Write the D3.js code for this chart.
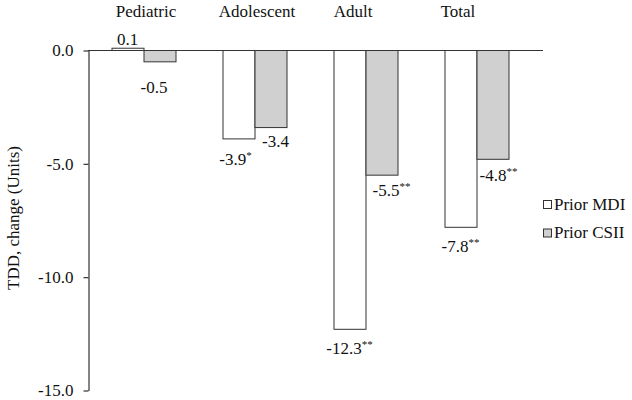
<!DOCTYPE html>
<html>
<head>
<meta charset="utf-8">
<script src="https://cdn.jsdelivr.net/npm/d3@7"></script>
<style>
  html, body { margin: 0; padding: 0; background: #fff; }
  svg { display: block; }
  svg text { font-family: "Liberation Serif", "Times New Roman", serif; }
</style>
</head>
<body>
<svg id="chart" width="632" height="400"></svg>
<script>
// ---- data ----
const categories = ["Pediatric", "Adolescent", "Adult", "Total"];
const seriesNames = ["Prior MDI", "Prior CSII"];
const mdiValues = [0.1, -3.9, -12.3, -7.8];
const csiiValues = [-0.5, -3.4, -5.5, -4.8];
const mdiSig = ["", "*", "**", "**"];
const csiiSig = ["", "", "**", "**"];
const yTicks = [0, -5, -10, -15];
const yLabel = "TDD, change (Units)";

// ---- layout / style ----
const FONT = "'Liberation Serif', 'Times New Roman', serif";
const fills = ["#ffffff", "#d0d0d0"];
const stroke = "#333";
const fontSize = 17;
const catLabelDx = [2.5, 2.5, -12.5, -18.5];
// value label offsets [dx from bar centre, dy from bar end]
const valLabelOff = [
  [[0, -3], [-3, 27], [0, 25], [0, 25]],
  [[-5.5, 32], [5, 20], [10, 21], [6, 22]]
];

const fmt = d3.formatLocale({decimal: ".", thousands: ",", grouping: [3], currency: ["", ""], minus: "-"}).format(".1f");

const svg = d3.select("#chart");
const x0 = d3.scaleBand().domain(categories).range([88, 532]).padding(0);
const barW = 32;
const x1 = d3.scaleBand().domain(seriesNames)
  .range([x0.bandwidth() / 2 - barW, x0.bandwidth() / 2 + barW]).padding(0);
const y = d3.scaleLinear().domain([-15, 0]).range([390, 50]);

const series = [mdiValues, csiiValues];
const sigs = [mdiSig, csiiSig];

// bars
series.forEach((vals, si) => {
  svg.append("g").selectAll("rect").data(vals).join("rect")
    .attr("x", (d, i) => x0(categories[i]) + x1(seriesNames[si]) + 0.5)
    .attr("y", d => Math.min(y(d), y(0)) + 0.5)
    .attr("width", x1.bandwidth())
    .attr("height", d => Math.abs(y(d) - y(0)))
    .attr("fill", fills[si])
    .attr("stroke", stroke)
    .attr("stroke-width", 1);
});

// zero line
svg.append("line")
  .attr("x1", 88).attr("x2", 543)
  .attr("y1", y(0) + 0.5).attr("y2", y(0) + 0.5)
  .attr("stroke", stroke).attr("stroke-width", 1.2);

// y axis
const yAxis = d3.axisLeft(y).tickValues(yTicks).tickFormat(fmt)
  .tickSize(5).tickSizeOuter(0).tickPadding(10);
const ga = svg.append("g").attr("transform", "translate(88.5,0.5)").call(yAxis)
  .attr("font-family", FONT).attr("font-size", fontSize);
ga.select(".domain").attr("stroke", stroke).attr("stroke-width", 1.2);
ga.selectAll(".tick line").attr("stroke", stroke).attr("stroke-width", 1.2);
ga.selectAll(".tick text").attr("fill", "#111");

// y label
svg.append("text")
  .attr("transform", "translate(19,218) rotate(-90)")
  .attr("text-anchor", "middle")
  .attr("font-family", FONT)
  .attr("font-size", fontSize).attr("fill", "#111")
  .text(yLabel);

// category labels
svg.append("g").selectAll("text").data(categories).join("text")
  .attr("x", (d, i) => x0(d) + x0.bandwidth() / 2 + catLabelDx[i])
  .attr("y", 17)
  .attr("text-anchor", "middle")
  .attr("font-family", FONT)
  .attr("font-size", fontSize).attr("fill", "#111")
  .text(d => d);

// value labels
series.forEach((vals, si) => {
  vals.forEach((v, i) => {
    const cx = x0(categories[i]) + x1(seriesNames[si]) + x1.bandwidth() / 2 + valLabelOff[si][i][0];
    const t = svg.append("text")
      .attr("x", cx)
      .attr("y", y(v) + valLabelOff[si][i][1])
      .attr("text-anchor", "middle")
      .attr("font-family", FONT)
      .attr("font-size", fontSize).attr("fill", "#111");
    t.append("tspan").text(fmt(v));
    if (sigs[si][i]) {
      t.append("tspan").attr("dy", -6).attr("font-size", 11).text(sigs[si][i]);
    }
  });
});

// legend
const lg = svg.append("g");
seriesNames.forEach((name, si) => {
  const ly = 204.5 + si * 28.5;
  lg.append("rect")
    .attr("x", 543.5).attr("y", ly - 4)
    .attr("width", 8).attr("height", 8)
    .attr("fill", fills[si]).attr("stroke", stroke).attr("stroke-width", 1);
  lg.append("text")
    .attr("x", 554).attr("y", ly + 5)
    .attr("font-family", FONT)
    .attr("font-size", fontSize).attr("fill", "#111")
    .text(name);
});
</script>
</body>
</html>
